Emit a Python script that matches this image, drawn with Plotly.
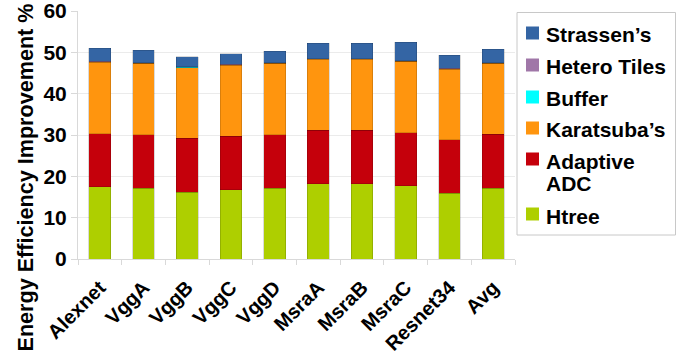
import plotly.graph_objects as go

categories = ["Alexnet", "VggA", "VggB", "VggC", "VggD", "MsraA", "MsraB", "MsraC", "Resnet34", "Avg"]
htree = [17.5, 17.1, 16.2, 16.7, 17.1, 18.2, 18.2, 17.7, 15.9, 17.1]
adaptive_adc = [12.8, 13.0, 13.0, 13.0, 13.0, 13.0, 13.0, 12.9, 13.0, 13.1]
karatsuba = [17.3, 17.2, 17.1, 17.2, 17.2, 17.1, 17.1, 17.2, 17.0, 17.1]
buffer = [0.1, 0.1, 0.1, 0.1, 0.1, 0.1, 0.1, 0.1, 0.1, 0.1]
hetero_tiles = [0.1, 0.1, 0.1, 0.1, 0.1, 0.1, 0.1, 0.1, 0.1, 0.1]
strassen = [3.2, 3.0, 2.4, 2.6, 2.8, 3.7, 3.7, 4.5, 3.2, 3.2]

series_names = ["Htree", "Adaptive ADC", "Karatsuba’s", "Buffer", "Hetero Tiles", "Strassen’s"]
series_values = [htree, adaptive_adc, karatsuba, buffer, hetero_tiles, strassen]
series_colors = ["#aecf00", "#c5000b", "#ff950e", "#00ffff", "#a077a8", "#3465a4"]

W, H = 677, 355
ML, MR, MT, MB = 78, 162, 11, 96
PW, PH = W - ML - MR, H - MT - MB


def px(x):
    return (x - ML) / PW


def py(y):
    return (H - MB - y) / PH


fig = go.Figure()
for name, vals, color in zip(series_names, series_values, series_colors):
    fig.add_trace(go.Bar(
        x=categories, y=vals, name=name, showlegend=False,
        marker=dict(color=color, line=dict(color="rgba(0,0,0,0.18)", width=0.8)),
        width=0.5,
    ))

font_family = "Liberation Sans, Arial, sans-serif"

# custom legend (top to bottom = reverse stacking order)
shapes = [dict(type="rect", xref="paper", yref="paper",
               x0=px(517), x1=px(675.5), y0=py(12.5), y1=py(235),
               line=dict(color="#c8c8c8", width=1), fillcolor="white", layer="above")]
annotations = []
legend_rows = [  # (label lines, marker center y, label line centers)
    (["Strassen’s"], 33, [33]),
    (["Hetero Tiles"], 65, [65]),
    (["Buffer"], 97, [97]),
    (["Karatsuba’s"], 128, [128.5]),
    (["Adaptive", "ADC"], 159, [160, 183]),
    (["Htree"], 214, [215]),
]
legend_colors = series_colors[::-1]
for (lines, my, ly), color in zip(legend_rows, legend_colors):
    shapes.append(dict(type="rect", xref="paper", yref="paper",
                       x0=px(526), x1=px(539), y0=py(my + 6.5), y1=py(my - 6.5),
                       line=dict(width=0), fillcolor=color, layer="above"))
    for text, yy in zip(lines, ly):
        annotations.append(dict(
            text=text, xref="paper", yref="paper", x=px(543.5), y=py(yy + 1),
            xanchor="left", yanchor="middle", showarrow=False,
            font=dict(size=21, weight="bold", color="black", family=font_family),
        ))

annotations.append(dict(
    text="Energy Efficiency Improvement %", textangle=-90,
    xref="paper", yref="paper", x=px(25), y=py(177.5),
    xanchor="center", yanchor="middle", showarrow=False,
    font=dict(size=21.6, weight="bold", color="black", family=font_family),
))

fig.update_layout(
    width=W, height=H,
    barmode="stack",
    plot_bgcolor="white", paper_bgcolor="white",
    margin=dict(l=ML, r=MR, t=MT, b=MB, autoexpand=False),
    font=dict(family=font_family, color="black"),
    showlegend=False,
    shapes=shapes,
    annotations=annotations,
)
fig.update_xaxes(
    type="category", tickangle=-45, automargin=False,
    tickfont=dict(size=20, weight="bold", color="black"),
    showline=True, linecolor="#d9d9d9", linewidth=1,
    ticks="outside", tickson="boundaries", ticklen=5, tickcolor="#d9d9d9",
    showgrid=False, ticklabeloverflow="allow", ticklabelstandoff=8,
)
fig.update_yaxes(
    range=[0, 60], dtick=10, automargin=False,
    tickfont=dict(size=21, weight="bold", color="black"),
    showgrid=True, gridcolor="#ebebeb", gridwidth=1,
    showline=True, linecolor="#d9d9d9", linewidth=1,
    ticks="outside", ticklen=6, tickcolor="#d9d9d9",
    zeroline=False, ticklabeloverflow="allow",
)
fig.write_html("out.html", post_script="document.body.style.margin='0';",
               config={"displayModeBar": False})
